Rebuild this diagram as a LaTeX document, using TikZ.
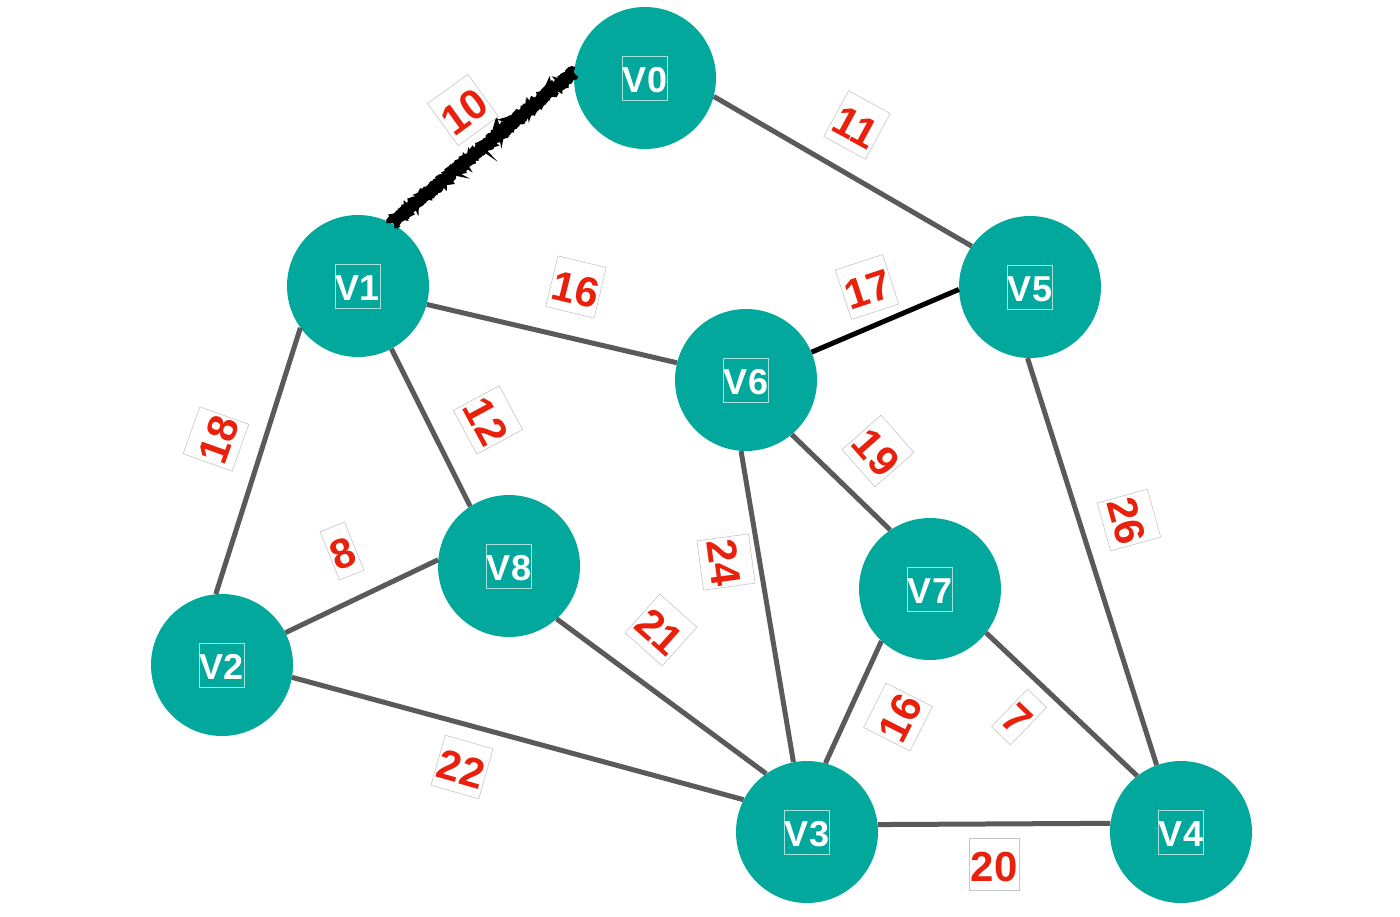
\documentclass[tikz,border=0pt]{standalone}
\usepackage{fontspec}
\setmainfont{Liberation Sans}
\usetikzlibrary{decorations.pathmorphing}
\definecolor{tealv}{HTML}{02A89C}
\definecolor{edgegray}{HTML}{5A5A5A}
\definecolor{labred}{HTML}{E8200C}
\begin{document}
\begin{tikzpicture}[x=1pt,y=-1pt,
  vert/.style={circle, fill=tealv, minimum size=142pt, inner sep=0pt},
  vtext/.style={draw=white!65!tealv, line width=0.6pt, text=white,
    font=\fontsize{36}{36}\selectfont\bfseries, inner xsep=0.5pt, inner ysep=3pt,
    text height=33pt, text depth=5pt},
  wlab/.style={draw=gray!45, line width=0.6pt, fill=white, text=labred,
    font=\fontsize{42}{42}\selectfont\bfseries, inner xsep=1.5pt, inner ysep=2pt,
    text height=41pt, text depth=7pt},
  edge/.style={draw=edgegray, line width=5pt},
  darkedge/.style={draw=black, line width=5pt},
  rough/.style={draw=black, decorate, decoration={random steps, segment length=2.2pt, amplitude=1.5pt}}
]
\useasboundingbox (0,0) rectangle (1400,916);

% vertex positions
\coordinate (p0) at (645,78);
\coordinate (p1) at (358,286);
\coordinate (p2) at (222,665);
\coordinate (p3) at (807,832);
\coordinate (p4) at (1181,832);
\coordinate (p5) at (1030,287);
\coordinate (p6) at (746,380);
\coordinate (p7) at (930,589);
\coordinate (p8) at (509,566);

\node[vert] (v0) at (p0) {};
\node[vert] (v1) at (p1) {};
\node[vert] (v2) at (p2) {};
\node[vert] (v3) at (p3) {};
\node[vert] (v4) at (p4) {};
\node[vert] (v5) at (p5) {};
\node[vert] (v6) at (p6) {};
\node[vert] (v7) at (p7) {};
\node[vert] (v8) at (p8) {};

% edges, between points on the circles
\path[edge] (v0.-15) -- (v5.145);
\path[edge] (v1.-15) -- (v6.166);
\path[edge] (v1.-62) -- (v8.123);
\path[edge] (v1.-144) -- (v2.95);
\path[edge] (v2.27) -- (v8.175);
\path[edge] (v2.-10) -- (v3.153);
\path[edge] (v8.-48) -- (v3.125);
\path[edge] (v6.-94) -- (v3.101);
\path[edge] (v6.-50) -- (v7.124);
\path[edge] (v7.-133) -- (v3.75);
\path[edge] (v7.-38) -- (v4.128);
\path[edge] (v3.6.5) -- (v4.173.5);
\path[edge] (v5.-92) -- (v4.110);
\path[darkedge] (v6.23) -- (v5.182);

% rough black edge V1--V0
\path[rough, line width=10pt] (v1.62) -- (v0.175);
\path[rough, line width=3pt, transform canvas={shift={(3pt,-4pt)}}, decoration={random steps, segment length=1.5pt, amplitude=1.8pt}] (v1.62) -- (v0.175);
\path[rough, line width=3pt, transform canvas={shift={(-3pt,4pt)}}, decoration={random steps, segment length=1.7pt, amplitude=1.6pt}] (v1.62) -- (v0.175);

% vertex labels
\node[vtext] (t0) at (p0) {V0};
\node[vtext] (t1) at (p1) {V1};
\node[vtext] (t2) at (p2) {V2};
\node[vtext] (t3) at (p3) {V3};
\node[vtext] (t4) at (p4) {V4};
\node[vtext] (t5) at (p5) {V5};
\node[vtext] (t6) at (p6) {V6};
\node[vtext] (t7) at (p7) {V7};
\node[vtext] (t8) at (p8) {V8};

% weight labels
\node[wlab, rotate=35.9] (w10) at (463,110) {10};
\node[wlab, rotate=-28.5] (w11) at (857,125) {11};
\node[wlab, rotate=-13.6] (w16a) at (576,287) {16};
\node[wlab, rotate=18.1] (w17) at (867,287) {17};
\node[wlab, rotate=-61.7] (w12) at (488,420) {12};
\node[wlab, rotate=70.3] (w18) at (216,439) {18};
\node[wlab, rotate=22] (w8) at (342,551) {8};
\node[wlab, rotate=-82.3] (w24) at (726,562) {24};
\node[wlab, rotate=-48.6] (w19) at (878,451) {19};
\node[wlab, rotate=-74.5] (w26) at (1129,520) {26};
\node[wlab, rotate=-41.8] (w21) at (661,630) {21};
\node[wlab, rotate=-15.9] (w22) at (462,767) {22};
\node[wlab, rotate=63.2] (w16b) at (898,717) {16};
\node[wlab, rotate=-44] (w7) at (1019,717) {7};
\node[wlab] (w20) at (994,864) {20};
\end{tikzpicture}
\end{document}
